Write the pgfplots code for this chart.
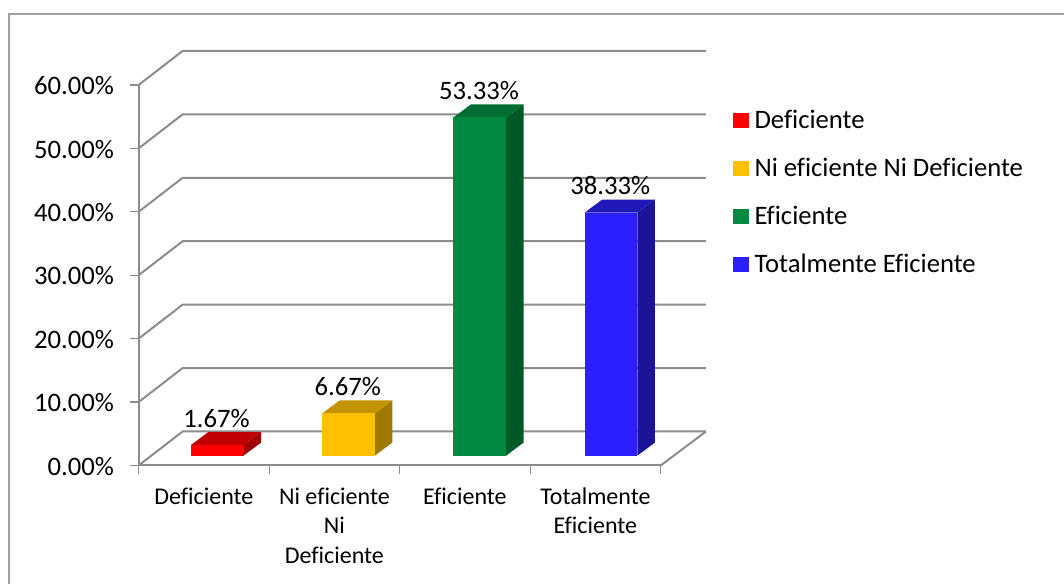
\documentclass[border=0pt]{standalone}
\usepackage{pgfplots}
\usepackage{fontspec}
\setmainfont{Carlito}[Ligatures=CommonOff]
\pgfplotsset{compat=1.18}
\definecolor{gridgray}{HTML}{8C8C8C}
\definecolor{framegray}{HTML}{A0A0A0}
\definecolor{rojo}{HTML}{FF0000}\definecolor{rojoT}{HTML}{C00000}\definecolor{rojoS}{HTML}{A00000}
\definecolor{ambar}{HTML}{FFC000}\definecolor{ambarT}{HTML}{C49300}\definecolor{ambarS}{HTML}{A07A00}
\definecolor{verde}{HTML}{00893F}\definecolor{verdeT}{HTML}{006E32}\definecolor{verdeS}{HTML}{005A28}
\definecolor{azul}{HTML}{2B1FFF}\definecolor{azulT}{HTML}{2018B8}\definecolor{azulS}{HTML}{1C1498}
% oblique projection of the 3D chart, in axis units
\def\wallx{0.337}\def\wally{5.36}
\def\barx{0.102}\def\bary{1.55}
\def\barhw{0.2015}\def\depx{0.134}\def\depy{2.05}
\def\barpitch{1.006}
% one wall gridline at level #1: the diagonal, then the run along the back
\newcommand{\gridlevel}[1]{%
  \pgfmathsetmacro{\xa}{-0.5+\wallx}\pgfmathsetmacro{\ya}{#1+\wally}%
  \addplot[gridgray,line width=1.5pt,forget plot] coordinates {(-0.5,#1) (\xa,\ya) (3.847,\ya)};%
}
% solid bar: category, value, front, top and side colours
\newcommand{\solidbar}[5]{%
  \pgfmathsetmacro{\xl}{#1*\barpitch+\barx-\barhw}\pgfmathsetmacro{\xr}{#1*\barpitch+\barx+\barhw}%
  \pgfmathsetmacro{\xlb}{\xl+\depx}\pgfmathsetmacro{\xrb}{\xr+\depx}%
  \pgfmathsetmacro{\yb}{\bary}\pgfmathsetmacro{\yt}{\bary+#2}%
  \pgfmathsetmacro{\ybb}{\yb+\depy}\pgfmathsetmacro{\ytb}{\yt+\depy}%
  \addplot[fill=#5,draw=none,forget plot] coordinates {(\xr,\yb) (\xrb,\ybb) (\xrb,\ytb) (\xr,\yt)} --cycle;%
  \addplot[fill=#4,draw=none,forget plot] coordinates {(\xl,\yt) (\xlb,\ytb) (\xrb,\ytb) (\xr,\yt)} --cycle;%
  \addplot[fill=#3,draw=none,forget plot] coordinates {(\xl,\yb) (\xr,\yb) (\xr,\yt) (\xl,\yt)} --cycle;%
}
\begin{document}
\begin{tikzpicture}
\useasboundingbox (0,0) rectangle (798pt,438pt);
\fill[white] (0,0) rectangle (798pt,438pt);
\draw[framegray,line width=1.5pt] (6.75pt,-5pt) -- (6.75pt,427.5pt) -- (805pt,427.5pt);
\begin{axis}[
  at={(104pt,88.9pt)},anchor=south west,
  scale only axis,width=391.5pt,height=285.4pt,
  xmin=-0.5,xmax=3.5,ymin=0,ymax=60,
  clip=false,
  axis lines=left,
  axis line style={-,gridgray,line width=1.5pt},
  every tick/.style={gridgray,line width=1pt},
  tick align=outside,major tick length=6.5pt,
  xtick={-0.5,0.5,1.5,2.5,3.5},
  x tick label as interval=true,
  xticklabels={Deficiente,Ni eficiente\\Ni\\Deficiente,Eficiente,Totalmente\\Eficiente},
  x tick label style={align=center,font=\fontsize{18}{22.2}\selectfont,yshift=-6.5pt},
  ytick={0,10,20,30,40,50,60},
  yticklabel={\pgfmathprintnumber{\tick}\%},
  yticklabel style={font=\fontsize{20}{24}\selectfont,xshift=-8.5pt,yshift=-0.5pt,
    /pgf/number format/.cd,fixed,fixed zerofill,precision=2,assume math mode=true},
  legend style={at={(1.14,0.94)},anchor=north west,draw=none,fill=none,inner sep=0pt,outer sep=0pt,
    font=\fontsize{20}{24}\selectfont,row sep=16.6pt},
  legend cell align=left,
]
\gridlevel{0}\gridlevel{10}\gridlevel{20}\gridlevel{30}\gridlevel{40}\gridlevel{50}\gridlevel{60}
% right-hand edge of the floor
\addplot[gridgray,line width=1.5pt,forget plot] coordinates {(3.5,0) (3.847,5.36)};
\solidbar{0}{1.67}{rojo}{rojoT}{rojoS}
\solidbar{1}{6.67}{ambar}{ambarT}{ambarS}
\solidbar{2}{53.33}{verde}{verdeT}{verdeS}
\solidbar{3}{38.33}{azul}{azulT}{azulS}
% value labels
\addplot[draw=none,mark=none,forget plot,
  nodes near coords,point meta=explicit symbolic,
  every node near coord/.style={font=\fontsize{20}{24}\selectfont,anchor=center,yshift=20pt,text=black},
] table[x expr=\thisrow{cat}*1.006+0.102-0.006,y expr=\thisrow{v}+1.55,meta=lab,row sep=\\] {
cat v lab\\
0 1.67 {1.67\%}\\
1 6.67 {6.67\%}\\
2 53.33 {53.33\%}\\
3 38.33 {38.33\%}\\
};
\addlegendimage{only marks,mark=square*,mark size=5.3pt,mark options={draw=rojo,fill=rojo}}
\addlegendentry{\hspace{3pt}Deficiente}
\addlegendimage{only marks,mark=square*,mark size=5.3pt,mark options={draw=ambar,fill=ambar}}
\addlegendentry{\hspace{3pt}Ni eficiente Ni Deficiente}
\addlegendimage{only marks,mark=square*,mark size=5.3pt,mark options={draw=verde,fill=verde}}
\addlegendentry{\hspace{3pt}Eficiente}
\addlegendimage{only marks,mark=square*,mark size=5.3pt,mark options={draw=azul,fill=azul}}
\addlegendentry{\hspace{3pt}Totalmente Eficiente}
\end{axis}
\end{tikzpicture}
\end{document}
